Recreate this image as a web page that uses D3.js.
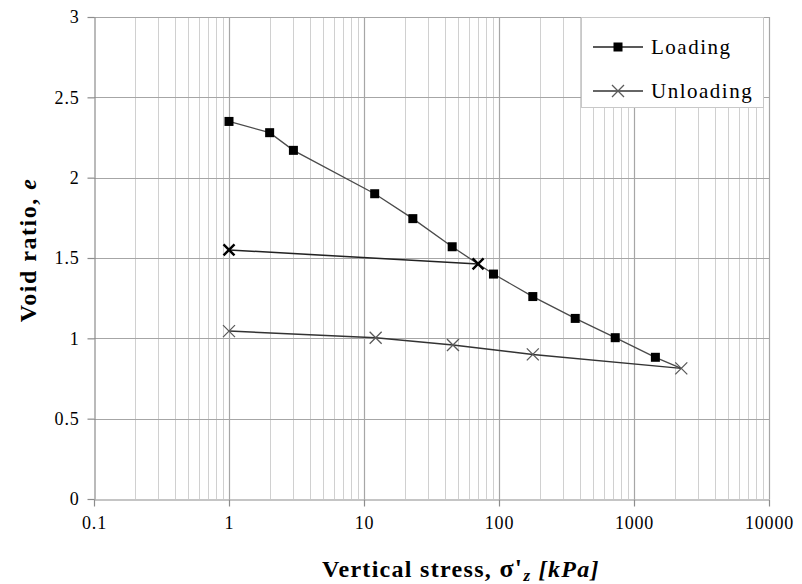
<!DOCTYPE html>
<html>
<head>
<meta charset="utf-8">
<script src="https://cdn.jsdelivr.net/npm/d3@7"></script>
<style>
  body { margin: 0; background: #fff; }
  text { font-family: "Liberation Serif", "Times New Roman", serif; }
</style>
</head>
<body>
<div id="chart"></div>
<script>
// loading curve (stress in kPa, void ratio)
var loadStress = [1, 2, 3, 12, 23, 45, 70, 91, 178, 367, 726, 1440, 2240];
var loadRatio  = [2.35, 2.28, 2.17, 1.90, 1.745, 1.57, 1.463, 1.40, 1.26, 1.124, 1.004, 0.882, 0.813];
// first unload cycle
var cycleStress = [70, 1];
var cycleRatio  = [1.463, 1.55];
// final unloading
var unloadStress = [2240, 178, 45.6, 12.2, 1];
var unloadRatio  = [0.813, 0.90, 0.958, 1.004, 1.045];

var xTicks = [0.1, 1, 10, 100, 1000, 10000];
var yTicks = [0, 0.5, 1, 1.5, 2, 2.5, 3];
var legendNames = ["Loading", "Unloading"];

var width = 802, height = 584,
    margin = {top: 17, right: 33, bottom: 85, left: 94};

var svg = d3.select("#chart").append("svg")
    .attr("width", width).attr("height", height);

var x = d3.scaleLog().domain([0.1, 10000]).range([margin.left, width - margin.right]);
var y = d3.scaleLinear().domain([0, 3]).range([height - margin.bottom, margin.top]);

// minor grid
var minor = [];
for (var d = 0.1; d < 10000; d *= 10) {
  for (var k = 2; k <= 9; k++) minor.push(d * k);
}
svg.append("g").selectAll("line").data(minor).enter().append("line")
  .attr("x1", function(d) { return Math.round(x(d)) + 0.5; })
  .attr("x2", function(d) { return Math.round(x(d)) + 0.5; })
  .attr("y1", y(0)).attr("y2", y(3))
  .style("stroke", "#d0d0d0").style("stroke-width", 1);

// major grid
svg.append("g").selectAll("line").data(xTicks.slice(1)).enter().append("line")
  .attr("x1", function(d) { return Math.round(x(d)) + 0.5; })
  .attr("x2", function(d) { return Math.round(x(d)) + 0.5; })
  .attr("y1", y(0)).attr("y2", y(3))
  .style("stroke", "#a6a6a6").style("stroke-width", 1.2);

svg.append("g").selectAll("line").data(yTicks.slice(1)).enter().append("line")
  .attr("x1", x(0.1)).attr("x2", x(10000))
  .attr("y1", function(d) { return Math.round(y(d)) + 0.5; })
  .attr("y2", function(d) { return Math.round(y(d)) + 0.5; })
  .style("stroke", "#a6a6a6").style("stroke-width", 1.2);

// axes
var xAxis = svg.append("g")
  .attr("transform", "translate(0," + (Math.round(y(0)) + 0.5) + ")")
  .call(d3.axisBottom(x).tickValues(xTicks).tickFormat(function(d) { return d; })
    .tickSizeInner(7).tickSizeOuter(0).tickPadding(10));
var yAxis = svg.append("g")
  .attr("transform", "translate(" + (Math.round(x(0.1)) + 0.5) + ",0)")
  .call(d3.axisLeft(y).tickValues(yTicks).tickFormat(d3.format("~g"))
    .tickSizeInner(7).tickSizeOuter(0).tickPadding(8));

[xAxis, yAxis].forEach(function(a) {
  a.select(".domain").style("stroke", "#8c8c8c").style("stroke-width", 1.2);
  a.selectAll(".tick line").style("stroke", "#8c8c8c").style("stroke-width", 1.2);
  a.selectAll("text").style("font-family", "'Liberation Serif', serif")
    .style("font-size", "18px").style("letter-spacing", "0.8px").style("fill", "#000");
});

// axis titles
var xt = svg.append("text")
  .attr("x", 322).attr("y", 577)
  .style("font-size", "24px").style("font-weight", "bold").style("letter-spacing", "1.3px");
xt.append("tspan").text("Vertical stress, ");
xt.append("tspan").style("font-size", "26px").text("σ'");
xt.append("tspan").style("font-style", "italic").style("font-size", "17px").attr("dy", 4).text("z");
xt.append("tspan").style("font-style", "italic").attr("dy", -4).text(" [kPa]");

var yt = svg.append("text")
  .attr("transform", "translate(36," + y(1.55) + ") rotate(-90)")
  .attr("text-anchor", "middle")
  .style("font-size", "24px").style("font-weight", "bold").style("letter-spacing", "1.5px");
yt.append("tspan").text("Void ratio, ");
yt.append("tspan").style("font-style", "italic").text("e");

// lines
var line = d3.line()
  .x(function(d) { return x(d[0]); })
  .y(function(d) { return y(d[1]); });

var loadPts = d3.zip(loadStress, loadRatio);
var cyclePts = d3.zip(cycleStress, cycleRatio);
var unloadPts = d3.zip(unloadStress, unloadRatio);

svg.append("path").datum(loadPts).attr("d", line)
  .style("fill", "none").style("stroke", "#4a4a4a").style("stroke-width", 1.3);
svg.append("path").datum(cyclePts).attr("d", line)
  .style("fill", "none").style("stroke", "#222").style("stroke-width", 1.5);
svg.append("path").datum(unloadPts).attr("d", line)
  .style("fill", "none").style("stroke", "#333").style("stroke-width", 1.5);

// markers
function cross(g, px, py, r, color, w) {
  g.append("path")
    .attr("d", "M" + (px - r) + "," + (py - r) + "L" + (px + r) + "," + (py + r) +
               "M" + (px - r) + "," + (py + r) + "L" + (px + r) + "," + (py - r))
    .style("stroke", color).style("stroke-width", w).style("fill", "none");
}

// points that belong to an unload branch carry a cross, not a square
var sharedPts = cyclePts.concat(unloadPts);
function isShared(p) {
  return sharedPts.some(function(q) { return q[0] === p[0] && q[1] === p[1]; });
}
var sq = 9;
svg.append("g").selectAll("rect")
  .data(loadPts.filter(function(d) { return !isShared(d); }))
  .enter().append("rect")
  .attr("x", function(d) { return x(d[0]) - sq / 2; })
  .attr("y", function(d) { return y(d[1]) - sq / 2; })
  .attr("width", sq).attr("height", sq)
  .style("fill", "#000");

var gm = svg.append("g");
unloadPts.forEach(function(d) { cross(gm, x(d[0]), y(d[1]), 6, "#5a5a5a", 1.3); });
cyclePts.forEach(function(d) { cross(gm, x(d[0]), y(d[1]), 5.5, "#000", 2.4); });

// legend
var lg = svg.append("g");
lg.append("rect")
  .attr("x", 581.5).attr("y", 17.5).attr("width", 182).attr("height", 90)
  .style("fill", "#fff").style("stroke", "#c8c8c8").style("stroke-width", 1);

legendNames.forEach(function(name, i) {
  var ly = 47 + i * 44;
  lg.append("line").attr("x1", 593).attr("x2", 643).attr("y1", ly).attr("y2", ly)
    .style("stroke", i === 0 ? "#222" : "#333").style("stroke-width", 1.3);
  if (i === 0) {
    lg.append("rect").attr("x", 618 - sq / 2).attr("y", ly - sq / 2)
      .attr("width", sq).attr("height", sq).style("fill", "#000");
  } else {
    cross(lg, 618, ly, 6, "#5a5a5a", 1.3);
  }
  lg.append("text").attr("x", 651).attr("y", ly + 7)
    .style("font-size", "21px").style("letter-spacing", "1.5px").text(name);
});
</script>
</body>
</html>
